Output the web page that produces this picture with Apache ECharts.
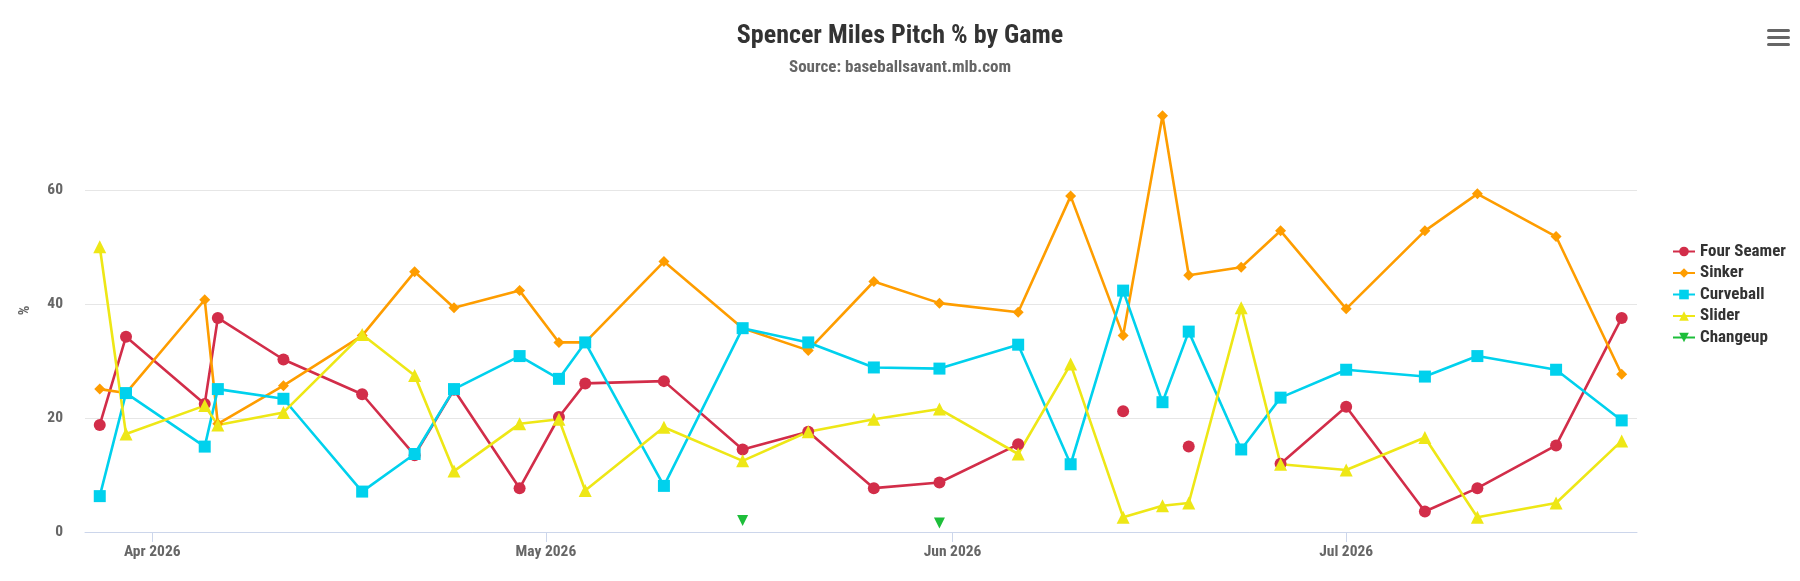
<!DOCTYPE html>
<html>
<head>
<meta charset="utf-8">
<script src="https://cdn.jsdelivr.net/npm/echarts@6/dist/echarts.min.js"></script>
<style>
  html, body { margin: 0; padding: 0; background: #fff; }
  #main { width: 1800px; height: 581px; }
</style>
</head>
<body>
<div id="main"></div>
<script>
const gameDates = [
  '2026-03-28', '2026-03-30', '2026-04-05', '2026-04-06', '2026-04-11', '2026-04-17', '2026-04-21',
  '2026-04-24', '2026-04-29', '2026-05-02', '2026-05-04', '2026-05-10', '2026-05-16', '2026-05-21',
  '2026-05-26', '2026-05-31', '2026-06-06', '2026-06-10', '2026-06-14', '2026-06-17', '2026-06-19',
  '2026-06-23', '2026-06-26', '2026-07-01', '2026-07-07', '2026-07-11', '2026-07-17', '2026-07-22'
];
const fourSeamer = [18.8, 34.3, 22.5, 37.6, 30.3, 24.2, 13.5, 25.0, 7.7, 20.2, 26.1, 26.5, 14.5, 17.6,
  7.7, 8.7, 15.4, null, 21.2, null, 15.0, null, 12.0, 22.0, 3.6, 7.7, 15.2, 37.6];
const sinker = [25.1, 24.4, 40.8, 19.0, 25.7, 34.5, 45.7, 39.4, 42.4, 33.3, 33.3, 47.5, 35.8, 31.9,
  44.0, 40.2, 38.6, 59.0, 34.5, 73.1, 45.1, 46.5, 52.9, 39.2, 52.9, 59.4, 51.9, 27.7];
const curveball = [6.3, 24.4, 15.0, 25.1, 23.4, 7.1, 13.7, 25.1, 30.9, 26.9, 33.3, 8.1, 35.8, 33.3,
  28.9, 28.7, 32.9, 11.9, 42.4, 22.8, 35.2, 14.5, 23.6, 28.5, 27.3, 30.9, 28.5, 19.6];
const slider = [50.1, 17.2, 22.2, 18.8, 21.0, 34.7, 27.5, 10.7, 19.0, 19.8, 7.3, 18.4, 12.5, 17.6,
  19.8, 21.6, 13.7, 29.5, 2.6, 4.6, 5.1, 39.4, 11.9, 10.9, 16.6, 2.6, 5.1, 16.0];
const changeup = [null, null, null, null, null, null, null, null, null, null, null, null, 2.0, null,
  null, 1.6, null, null, null, null, null, null, null, null, null, null, null, null];

const tickDates = ['2026-04-01', '2026-05-01', '2026-06-01', '2026-07-01'];
const tickLabels = ['Apr 2026', 'May 2026', 'Jun 2026', 'Jul 2026'];

const utc = s => { const p = s.split('-'); return Date.UTC(+p[0], +p[1] - 1, +p[2]); };
const times = gameDates.map(utc);
const tickTimes = tickDates.map(utc);
const pair = arr => times.map((t, i) => [t, arr[i]]);

const FONT = '"Roboto Condensed", "Liberation Sans Narrow", Roboto, sans-serif';

const mk = (name, data, color, symbol, size) => ({
  name: name,
  type: 'line',
  data: pair(data),
  symbol: symbol,
  symbolSize: size,
  showAllSymbol: true,
  connectNulls: false,
  itemStyle: { color: color },
  lineStyle: { color: color, width: 2.6 },
  emphasis: { disabled: true }
});

const chart = echarts.init(document.getElementById('main'));
chart.setOption({
  animation: false,
  title: {
    text: 'Spencer Miles Pitch % by Game',
    subtext: 'Source: baseballsavant.mlb.com',
    left: 'center',
    top: 18,
    itemGap: 10,
    textStyle: { fontFamily: FONT, fontWeight: 'bold', fontSize: 26, color: '#333' },
    subtextStyle: { fontFamily: FONT, fontWeight: 'bold', fontSize: 17, color: '#666' }
  },
  legend: {
    orient: 'vertical',
    left: 1667,
    top: 238,
    itemWidth: 22,
    itemHeight: 12,
    itemGap: 4.5,
    textStyle: { fontFamily: FONT, fontWeight: 'bold', fontSize: 17, color: '#333' },
    data: ['Four Seamer', 'Sinker', 'Curveball', 'Slider', 'Changeup']
  },
  grid: { left: 85, right: 163, top: 110.7, bottom: 49 },
  xAxis: {
    type: 'value',
    min: Date.UTC(2026, 2, 26, 21),
    max: Date.UTC(2026, 6, 23, 4),
    axisLine: { lineStyle: { color: '#ccd6eb', width: 1 } },
    axisTick: { show: true, length: 10, customValues: tickTimes, lineStyle: { color: '#ccd6eb' } },
    axisLabel: {
      customValues: tickTimes,
      formatter: v => tickLabels[tickTimes.indexOf(v)] || '',
      fontFamily: FONT, fontWeight: 'bold', fontSize: 15.5, color: '#666', margin: 12
    },
    splitLine: { show: false }
  },
  yAxis: {
    type: 'value',
    min: 0,
    max: 74,
    interval: 20,
    name: '%',
    nameLocation: 'middle',
    nameGap: 52,
    nameTextStyle: { fontFamily: FONT, fontWeight: 'bold', fontSize: 15, color: '#666', padding: [0, 0, 0, 22] },
    axisLine: { show: false },
    axisTick: { show: false },
    axisLabel: {
      showMaxLabel: false,
      fontFamily: FONT, fontWeight: 'bold', fontSize: 15.5, color: '#666', margin: 22
    },
    splitLine: { showMaxLine: false, lineStyle: { color: '#e6e6e6', width: 1 } }
  },
  graphic: [
    { type: 'rect', left: 1767, top: 29, shape: { width: 23, height: 3, r: 1.5 }, style: { fill: '#666' } },
    { type: 'rect', left: 1767, top: 36, shape: { width: 23, height: 3, r: 1.5 }, style: { fill: '#666' } },
    { type: 'rect', left: 1767, top: 43, shape: { width: 23, height: 3, r: 1.5 }, style: { fill: '#666' } }
  ],
  series: [
    mk('Four Seamer', fourSeamer, '#D22D49', 'circle', 12),
    mk('Sinker', sinker, '#FE9D00', 'diamond', 11),
    mk('Curveball', curveball, '#00D1ED', 'rect', 12),
    mk('Slider', slider, '#EEE716', 'triangle', 13),
    mk('Changeup', changeup, '#1DBE3A', 'path://M0,0 L10,0 L5,10 Z', 11)
  ]
});
</script>
</body>
</html>
